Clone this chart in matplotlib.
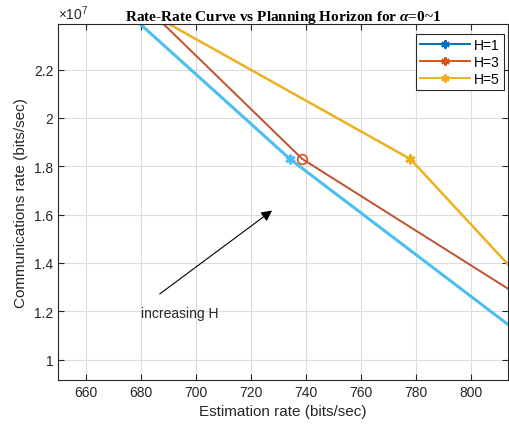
import matplotlib
matplotlib.use('Agg')
from matplotlib import pyplot as plt
from matplotlib.lines import Line2D
from matplotlib.ticker import FuncFormatter
import numpy as np

plt.rcParams['font.family'] = ['Liberation Sans', 'DejaVu Sans']
plt.rcParams['mathtext.fontset'] = 'custom'
plt.rcParams['mathtext.it'] = 'Liberation Serif:italic:bold'
plt.rcParams['mathtext.rm'] = 'Liberation Serif:bold'

# estimation rate (bits/sec) vs communications rate (bits/sec)
h1_est = [670, 734.3, 830]
h1_comm = [2.489e7, 1.83e7, 1.004e7]
h3_est = [680, 738.8, 830]
h3_comm = [2.480e7, 1.83e7, 1.176e7]
h5_est = [680, 778.1, 830]
h5_comm = [2.454e7, 1.83e7, 1.193e7]

# the marked operating points
marks_est = [734.3, 738.8, 778.1]
marks_comm = [1.83e7, 1.83e7, 1.83e7]

labels = ['H=1', 'H=3', 'H=5']
legend_colors = ['#0072BD', '#D95319', '#EDB120']
line_colors = ['#4DBEEE', '#C0502E', '#EDB120']

ASTER = (6, 2, 0)

fig = plt.figure(figsize=(5.10, 4.31), dpi=100)
ax = fig.add_axes([0.1143, 0.1167, 0.9960 - 0.1143, 0.9427 - 0.1167])

ax.plot(h1_est, h1_comm, '-', color=line_colors[0], lw=2.2)
ax.plot(h3_est, h3_comm, '-', color=line_colors[1], lw=1.4)
ax.plot(h5_est, h5_comm, '-', color=line_colors[2], lw=1.8)

ax.plot(marks_est[0], marks_comm[0], marker=ASTER, color=line_colors[0], ms=7, mew=2)
ax.plot(marks_est[1], marks_comm[1], marker='o', mfc='none', mec=legend_colors[1], ms=7, mew=1.2)
ax.plot(marks_est[2], marks_comm[2], marker=ASTER, color=line_colors[2], ms=7, mew=2)

ax.set_xlim(650, 813.6)
ax.set_ylim(0.917e7, 2.39e7)
ax.set_xticks(np.arange(660, 801, 20))
ax.set_yticks(np.arange(1.0e7, 2.21e7, 0.2e7))
ax.yaxis.set_major_formatter(FuncFormatter(lambda v, p: '%g' % round(v / 1e7, 2)))
ax.text(0.0, 1.005, r'$\times\mathdefault{10^{7}}$', transform=ax.transAxes,
        fontsize=10, color='#262626', ha='left', va='bottom')

ax.grid(True, color='#dcdcdc', lw=0.8)
ax.set_axisbelow(True)
ax.tick_params(direction='in', top=True, right=True, labelsize=10, colors='#262626', length=4)
for s in ax.spines.values():
    s.set_color('#262626')
    s.set_linewidth(0.8)

ax.set_xlabel('Estimation rate (bits/sec)', fontsize=11, color='#262626')
ax.set_ylabel('Communications rate (bits/sec)', fontsize=11, color='#262626')
ax.set_title(r'Rate-Rate Curve vs Planning Horizon for $\alpha$=0~1',
             fontsize=11, fontweight='bold', family='Liberation Serif', pad=3)

ax.annotate('', xy=(728.6, 1.624e7), xytext=(686.1, 1.265e7),
            arrowprops=dict(arrowstyle='-|>', color='black', lw=0.8, mutation_scale=16))
ax.text(680.0, 1.193e7, 'increasing H', fontsize=10, va='center', ha='left', color='#262626')

handles = [Line2D([], [], color=c, marker=ASTER, ms=6, mew=1.5, lw=1.4) for c in legend_colors]
leg = ax.legend(handles, labels, loc='upper right', fontsize=10, fancybox=False,
                framealpha=1, edgecolor='#262626', borderpad=0.3, labelspacing=0.2,
                handlelength=3.6, handletextpad=0.3, borderaxespad=0,
                bbox_to_anchor=(504 / 510, 1 - 35 / 431), bbox_transform=fig.transFigure)
leg.get_frame().set_linewidth(0.8)

fig.savefig('out.png', dpi=100)
